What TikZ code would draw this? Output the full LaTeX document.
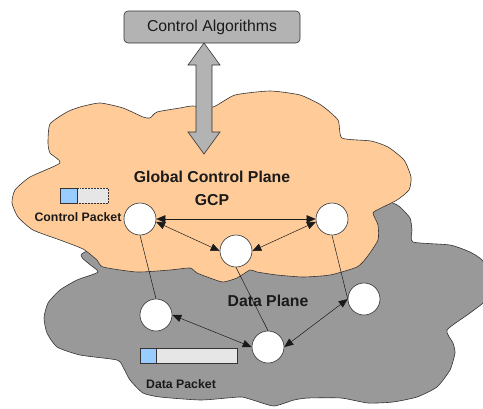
\documentclass[tikz,border=0pt]{standalone}
\usepackage{fontspec}
\setmainfont{Liberation Sans}
\usetikzlibrary{arrows.meta}

\definecolor{gcporange}{HTML}{FFCC99}
\definecolor{dpgrey}{HTML}{999999}
\definecolor{boxgrey}{HTML}{B3B3B3}
\definecolor{pktblue}{HTML}{99CCFF}
\definecolor{pktgrey}{HTML}{E6E6E6}
\definecolor{outline}{HTML}{333333}
\definecolor{ink}{HTML}{1A1A1A}

\tikzset{
  cloud outline/.style={draw=outline, line width=0.6pt, line join=round},
  router/.style={circle, draw=outline, fill=white, line width=0.6pt,
                 minimum size=32pt, inner sep=0pt},
  link/.style={draw=ink, line width=0.5pt},
  duplex/.style={link, {Triangle[length=9pt,width=7.5pt]}-{Triangle[length=9pt,width=7.5pt]}},
  bigtitle/.style={text=ink, font=\bfseries\fontsize{15.8}{18}\selectfont, inner sep=0pt},
  smalltitle/.style={text=ink, font=\bfseries\fontsize{12.3}{14}\selectfont, inner sep=0pt},
}

\begin{document}
\begin{tikzpicture}[x=1pt, y=-1pt]
  \useasboundingbox (0,0) rectangle (483,408);
  \clip (0,0) rectangle (483,408);

  % data plane cloud (lower, grey)
  \path[cloud outline, fill=dpgrey] plot[smooth cycle, tension=0.35] coordinates {
    (83,253) (88,263) (98,272) (77,280) (60,290) (48,303) (44,318) (47,333)
    (57,347) (80,355) (117,360) (123,367) (130,380) (143,393) (160,397)
    (200,400) (227,398) (242,397) (256,401) (274,406) (294,400) (308,398)
    (341,398) (368,403) (393,402) (417,397) (437,387) (450,370) (455,353)
    (453,343) (447,330) (470,313) (488,298) (490,275) (482,260) (470,252)
    (450,245) (413,242) (412,230) (410,218) (400,207) (393,203) (370,195)
    (300,200) (150,230)
  };

  % global control plane cloud (upper, orange)
  \path[cloud outline, fill=gcporange] plot[smooth cycle, tension=0.35] coordinates {
    (50,124) (67,112) (80,107) (100,103) (123,108) (143,117) (150,118)
    (157,112) (180,108) (192,106) (213,107) (235,95) (270,91) (300,95)
    (321,105) (338,120) (342,138) (371,141) (388,147) (404,160) (411,177)
    (409,190) (397,200) (381,208) (373,213) (378,225) (378,240) (367,257)
    (357,267) (330,275) (303,277) (277,275) (257,272) (250,270) (237,278)
    (223,282) (210,278) (197,273) (190,268) (170,270) (137,272) (103,267)
    (97,260) (83,249) (60,240) (33,230) (18,217) (12,203) (15,190) (30,177)
    (60,163) (50,153) (48,143)
  };

  % controller box and its two-way interface arrow
  \node[draw=outline, fill=boxgrey, rounded corners=4pt, line width=0.6pt,
        minimum width=176pt, minimum height=32pt, inner sep=0pt,
        text=ink, font=\fontsize{15.8}{18}\selectfont]
        (algo) at (212,27) {Control Algorithms};
  \path[draw=outline, fill=boxgrey, line width=0.6pt, line join=miter]
    (204,43) -- (220,65) -- (212,65) -- (212,132) -- (220,132) -- (204,154)
    -- (188,132) -- (196,132) -- (196,65) -- (188,65) -- cycle;

  % plane labels
  \node[bigtitle] (gcptitle) at (212,177) {Global Control Plane};
  \node[bigtitle] (gcpshort) at (212,200) {GCP};
  \node[bigtitle] (dptitle) at (268,301) {Data Plane};

  % control packet icon
  \path[draw=outline, fill=pktgrey, line width=0.5pt, densely dotted]
    (77,188) rectangle (108,203);
  \path[draw=outline, fill=pktblue, line width=0.5pt] (60,188) rectangle (77,203);
  \node[smalltitle] (cpkt) at (78,217) {Control Packet};

  % data packet icon
  \path[draw=outline, fill=pktgrey, line width=0.6pt] (156,348) rectangle (237,363);
  \path[draw=outline, fill=pktblue, line width=0.6pt] (140,348) rectangle (156,363);
  \node[smalltitle] (dpkt) at (181,384) {Data Packet};

  % routers
  \node[router] (c1) at (140,219) {};
  \node[router] (c2) at (332,219) {};
  \node[router] (c3) at (236,251) {};
  \node[router] (d1) at (156,315) {};
  \node[router] (d2) at (268,347) {};
  \node[router] (d3) at (364,299) {};

  % control plane links
  \draw[duplex] (c1.east) -- (c2.west);
  \draw[duplex] (c1.-10) -- (c3.west);
  \draw[duplex] (c2.190) -- (c3.east);

  % vertical bindings between planes
  \draw[link] (c1.south) -- (d1.north);
  \draw[link] (c3.south) -- (d2.north);
  \draw[link] (c2.south) -- (d3.west);

  % data plane links
  \draw[duplex] (d1.east) -- (d2.west);
  \draw[duplex] (d2.east) -- (d3.west);
\end{tikzpicture}
\end{document}
